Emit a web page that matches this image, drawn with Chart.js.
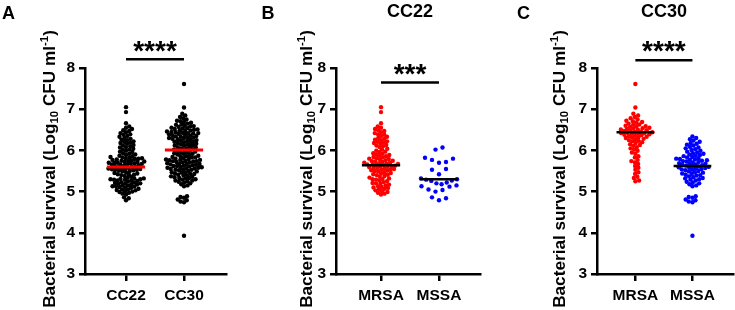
<!DOCTYPE html>
<html>
<head>
<meta charset="utf-8">
<script src="https://cdn.jsdelivr.net/npm/chart.js@4.4.1/dist/chart.umd.min.js"></script>
<style>
html,body{margin:0;padding:0;background:#fff;}
#wrap{position:relative;width:735px;height:310px;overflow:hidden;background:#fff;}
canvas{position:absolute;top:0;}
</style>
</head>
<body>
<div id="wrap">
<canvas id="cA" width="245" height="310" style="left:0px"></canvas>
<canvas id="cB" width="245" height="310" style="left:245px"></canvas>
<canvas id="cC" width="245" height="310" style="left:490px"></canvas>
</div>
<script>
// ---------------- data ----------------
const yTicks = [3, 4, 5, 6, 7, 8];
const catsA = ['CC22', 'CC30'];
const catsB = ['MRSA', 'MSSA'];
const catsC = ['MRSA', 'MSSA'];

// CC22 MRSA (red, panel B)
const cc22MRSA = [7.05, 6.93, 6.66, 6.58, 6.55, 6.52, 6.49, 6.47, 6.44, 6.42, 6.39,
  6.38, 6.35, 6.33, 6.30, 6.28, 6.26, 6.25, 6.22, 6.21, 6.19, 6.18, 6.16, 6.13, 6.12, 6.10,
  6.08, 6.04, 6.02, 5.99, 5.97, 5.96, 5.93, 5.92, 5.90, 5.89, 5.87, 5.86, 5.84, 5.83, 5.81, 5.80,
  5.79, 5.78, 5.76, 5.75, 5.74, 5.73, 5.72, 5.70, 5.70, 5.69, 5.68, 5.67, 5.66, 5.66, 5.65, 5.64,
  5.63, 5.62, 5.61, 5.60, 5.59, 5.58, 5.57, 5.56, 5.55, 5.54, 5.53, 5.52, 5.51, 5.50,
  5.49, 5.47, 5.45, 5.44, 5.42, 5.41, 5.40, 5.38, 5.36, 5.34, 5.32, 5.31, 5.30,
  5.29, 5.27, 5.25, 5.23, 5.21, 5.20, 5.19, 5.17, 5.15, 5.13, 5.11, 5.10,
  5.09, 5.07, 5.05, 5.03, 5.01, 4.99, 4.97, 4.95, 4.93];
// CC22 MSSA (blue, panel B)
const cc22MSSA = [6.07, 6.02, 5.82, 5.80, 5.77, 5.72, 5.70, 5.55, 5.53, 5.42, 5.32, 5.30,
  5.29, 5.27, 5.26, 5.22, 5.20, 5.18, 5.15, 5.13, 5.12, 5.05, 5.04, 5.00, 4.86, 4.84, 4.79];
// CC30 MRSA (red, panel C)
const cc30MRSA = [7.61, 7.04, 6.89, 6.85, 6.81, 6.78, 6.75, 6.72, 6.71, 6.69, 6.67, 6.65, 6.63,
  6.62, 6.60, 6.59, 6.58, 6.57, 6.55, 6.54, 6.53, 6.52, 6.51, 6.50, 6.49, 6.48, 6.47, 6.46,
  6.45, 6.44, 6.43, 6.42, 6.42, 6.41, 6.40, 6.39, 6.38, 6.37, 6.36, 6.35, 6.33, 6.32, 6.31, 6.30,
  6.28, 6.27, 6.25, 6.23, 6.22, 6.20, 6.18, 6.15, 6.13, 6.11, 6.08, 6.05, 6.02, 5.99, 5.95, 5.92,
  5.86, 5.83, 5.77, 5.74, 5.71, 5.67, 5.62, 5.58, 5.53, 5.47, 5.43, 5.36, 5.33, 5.27, 5.25];
// CC30 MSSA (blue, panel C)
const cc30MSSA = [6.34, 6.30, 6.27, 6.24, 6.21, 6.18, 6.16, 6.14, 6.12, 6.09, 6.07, 6.05, 6.03, 6.01,
  5.99, 5.97, 5.95, 5.93, 5.92, 5.90, 5.89, 5.87, 5.86, 5.84, 5.83, 5.81, 5.80,
  5.79, 5.78, 5.77, 5.76, 5.75, 5.74, 5.73, 5.72, 5.71, 5.69, 5.68, 5.67, 5.66, 5.65, 5.64, 5.63,
  5.62, 5.61, 5.60, 5.59, 5.58, 5.57, 5.56, 5.55, 5.54, 5.53, 5.52, 5.50, 5.49, 5.47, 5.46, 5.44,
  5.43, 5.41, 5.40, 5.39, 5.37, 5.35, 5.33, 5.32, 5.30, 5.29, 5.27, 5.24, 5.22, 5.20,
  5.18, 5.15, 5.13, 4.89, 4.87, 4.85, 4.81, 4.79, 4.76, 4.74, 3.93];
// Panel A combines the isolates of each clonal complex
const cc22All = cc22MRSA.concat(cc22MSSA);
const cc30All = cc30MRSA.concat(cc30MSSA);

// centre lines
const centerA = [5.60, 6.01];
const centerB = [5.64, 5.30];
const centerC = [6.44, 5.62];

const starsA = '****';
const starsB = '***';
const starsC = '****';

// ---------------- drawing ----------------
const FONT = "'Liberation Sans', Arial, Helvetica, sans-serif";
const RED = '#ff0000', BLUE = '#0000ff', BLACK = '#000000';

// evenly spaced rows (sparse groups)
function rowsLayout(pys, rowH, sMax, maxHalf) {
  const idx = pys.map((_, i) => i).sort((a, b) => pys[b] - pys[a]);
  const out = new Array(pys.length).fill(0);
  let k = 0, rowNo = 0;
  while (k < idx.length) {
    const start = pys[idx[k]];
    const row = [];
    while (k < idx.length && start - pys[idx[k]] < rowH) { row.push(idx[k]); k++; }
    const n = row.length;
    const s = n > 1 ? Math.min(sMax, 2 * maxHalf / (n - 1)) : 0;
    const slots = [];
    for (let j = 0; j < n; j++) slots.push((j - (n - 1) / 2) * s);
    const sign = rowNo % 2 ? 1 : -1;
    slots.sort((a, b) => (Math.abs(a) - Math.abs(b)) || sign * (a - b));
    row.forEach((pi, j) => { out[pi] = slots[j]; });
    rowNo++;
  }
  return out;
}

// greedy beeswarm (dense groups); overlap allowed once the column is full
function swarmLayout(pys, d, maxHalf) {
  const idx = pys.map((_, i) => i).sort((a, b) => pys[b] - pys[a]);
  const out = new Array(pys.length).fill(0);
  const placed = [];
  const step = 0.25;
  const mags = [];
  for (let k = 0; k * step <= maxHalf + 1e-9; k++) mags.push(k * step);
  idx.forEach((i, n) => {
    const y = pys[i];
    const near = placed.filter(p => Math.abs(p.y - y) < d);
    const sgn = n % 2 ? 1 : -1;
    let best = 0, bestScore = -1;
    outer:
    for (const m of mags) {
      const cands = m === 0 ? [0] : [sgn * m, -sgn * m];
      for (const c of cands) {
        let minD = Infinity;
        for (const p of near) {
          const dd = Math.hypot(p.x - c, p.y - y);
          if (dd < minD) minD = dd;
        }
        if (minD >= d) { best = c; bestScore = Infinity; break outer; }
        if (minD > bestScore + 0.01) { bestScore = minD; best = c; }
      }
    }
    out[i] = best;
    placed.push({x: best, y});
  });
  return out;
}

function drawYTitle(ctx, x, cy) {
  const parts = [
    {t: 'Bacterial survival (Log', s: 1, dy: 0},
    {t: '10', s: 0.66, dy: 0.2},
    {t: ' CFU ml', s: 1, dy: 0},
    {t: '-1', s: 0.66, dy: -0.4},
    {t: ')', s: 1, dy: 0}
  ];
  const target = 278;
  const widthAt = (sz) => {
    let w = 0;
    parts.forEach(p => { ctx.font = 'bold ' + (sz * p.s) + 'px ' + FONT; w += ctx.measureText(p.t).width; });
    return w;
  };
  const base = 15 * target / widthAt(15);
  const total = widthAt(base);
  ctx.save();
  ctx.translate(x, cy);
  ctx.rotate(-Math.PI / 2);
  ctx.fillStyle = BLACK;
  ctx.textBaseline = 'alphabetic';
  ctx.textAlign = 'left';
  let cx = -total / 2;
  parts.forEach(p => {
    ctx.font = 'bold ' + (base * p.s) + 'px ' + FONT;
    ctx.fillText(p.t, cx, p.dy * base);
    cx += ctx.measureText(p.t).width;
  });
  ctx.restore();
}

function makePanel(id, cfg) {
  const datasets = [];
  cfg.groups.forEach((g, gi) => {
    datasets.push({
      type: 'scatter',
      data: g.values.map(v => ({x: gi + 1, y: v})),
      pointRadius: 2.2, pointHoverRadius: 2.2,
      pointBackgroundColor: g.color, pointBorderWidth: 0, pointBorderColor: g.color,
      order: 1
    });
  });
  cfg.centers.forEach((m, gi) => {
    datasets.push({
      type: 'line',
      data: [{x: gi + 1 - 0.33, y: m}, {x: gi + 1 + 0.33, y: m}],
      borderColor: cfg.lineColor, borderWidth: cfg.lineWidth,
      pointRadius: 0, fill: false, order: -1
    });
  });
  const deco = {
    id: 'deco',
    afterDraw(chart) {
      const ctx = chart.ctx;
      const xs = chart.scales.x, ys = chart.scales.y;
      ctx.save();
      ctx.fillStyle = BLACK;
      ctx.font = 'bold 18px ' + FONT;
      ctx.textAlign = 'center';
      ctx.textBaseline = 'alphabetic';
      ctx.fillText(cfg.letter, cfg.letterX, 18.5);
      if (cfg.title) {
        ctx.font = 'bold 18px ' + FONT;
        ctx.fillText(cfg.title, (xs.getPixelForValue(1) + xs.getPixelForValue(2)) / 2, 17);
      }
      const x1 = xs.getPixelForValue(1), x2 = xs.getPixelForValue(2);
      const yb = ys.getPixelForValue(cfg.sigY);
      ctx.strokeStyle = BLACK;
      ctx.lineWidth = 2.5;
      ctx.beginPath(); ctx.moveTo(x1, yb); ctx.lineTo(x2, yb); ctx.stroke();
      ctx.font = 'bold 28px ' + FONT;
      const m = ctx.measureText(cfg.stars);
      const targetC = yb - 13.3;
      const baseY = targetC - (m.actualBoundingBoxDescent - m.actualBoundingBoxAscent) / 2;
      ctx.fillText(cfg.stars, (x1 + x2) / 2, baseY);
      ctx.restore();
      drawYTitle(ctx, cfg.yTitleX, 169);
    }
  };
  const tickFont = {family: FONT, weight: 'bold', size: 15.5};
  const chart = new Chart(document.getElementById(id), {
    type: 'scatter',
    data: {datasets},
    options: {
      responsive: false, animation: false, devicePixelRatio: 1,
      events: [],
      layout: {padding: {top: 68, right: cfg.padRight, left: 0, bottom: 0}},
      plugins: {legend: {display: false}, tooltip: {enabled: false}},
      scales: {
        x: {
          type: 'linear', min: cfg.xMin, max: cfg.xMax,
          afterBuildTicks: s => { s.ticks = [{value: 1}, {value: 2}]; },
          afterFit: s => { s.height = 36; },
          ticks: {callback: v => cfg.cats[Math.round(v) - 1], color: BLACK, font: tickFont,
                  padding: 5, autoSkip: false, maxRotation: 0, minRotation: 0},
          grid: {drawOnChartArea: false, drawTicks: true, tickLength: 7, tickWidth: 2.5,
                 lineWidth: 2.5, tickColor: BLACK, color: BLACK},
          border: {display: true, color: BLACK, width: 2.5}
        },
        y: {
          min: 3, max: 8,
          afterBuildTicks: s => { s.ticks = yTicks.map(v => ({value: v})); },
          afterFit: s => { s.width = cfg.left; },
          ticks: {color: BLACK, font: tickFont, padding: 4},
          grid: {drawOnChartArea: false, drawTicks: true, tickLength: 6, tickWidth: 2.5,
                 lineWidth: 2.5, tickColor: BLACK, color: BLACK},
          border: {display: true, color: BLACK, width: 2.5}
        }
      }
    },
    plugins: [deco]
  });
  // spread the points sideways, computed through the chart's own scales
  const xs = chart.scales.x, ys = chart.scales.y;
  const ppu = xs.getPixelForValue(2) - xs.getPixelForValue(1);
  cfg.groups.forEach((g, gi) => {
    const pys = g.values.map(v => ys.getPixelForValue(v));
    const offs = g.rows ? rowsLayout(pys, g.rowH, g.sMax, 18) : swarmLayout(pys, cfg.sep, 18.5);
    chart.data.datasets[gi].data = g.values.map((v, i) => ({x: gi + 1 + offs[i] / ppu, y: v}));
  });
  chart.update('none');
  return chart;
}

makePanel('cA', {
  left: 85, padRight: 19, xMin: 0.293, xMax: 2.724, cats: catsA, sep: 3.4,
  groups: [{values: cc22All, color: BLACK}, {values: cc30All, color: BLACK}],
  centers: centerA, lineColor: RED, lineWidth: 3,
  letter: 'A', letterX: 8.5, title: null, yTitleX: 54.5, sigY: 8.21, stars: starsA
});
makePanel('cB', {
  left: 91, padRight: 10, xMin: 0.224, xMax: 2.707, cats: catsB, sep: 3.4,
  groups: [{values: cc22MRSA, color: RED},
           {values: cc22MSSA, color: BLUE, rows: true, rowH: 6.4, sMax: 7}],
  centers: centerB, lineColor: BLACK, lineWidth: 2.5,
  letter: 'B', letterX: 23, title: 'CC22', yTitleX: 66.5, sigY: 7.65, stars: starsB
});
makePanel('cC', {
  left: 107, padRight: 0, xMin: 0.328, xMax: 2.707, cats: catsC, sep: 3.6,
  groups: [{values: cc30MRSA, color: RED}, {values: cc30MSSA, color: BLUE}],
  centers: centerC, lineColor: BLACK, lineWidth: 2.5,
  letter: 'C', letterX: 33.5, title: 'CC30', yTitleX: 74.5, sigY: 8.19, stars: starsC
});
</script>
</body>
</html>
